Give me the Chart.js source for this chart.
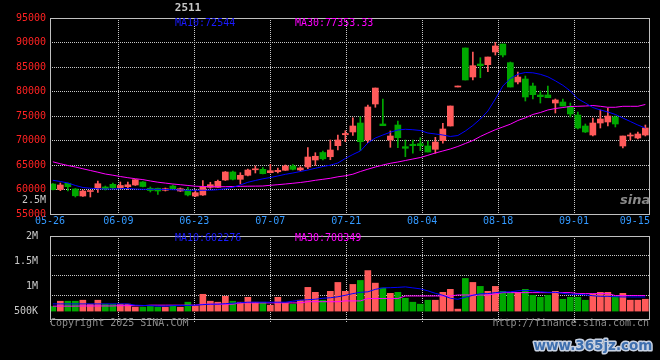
<!DOCTYPE html>
<html lang="zh-CN">
<head>
<meta charset="UTF-8">
<title>2511 日K线</title>
<style>
  html, body { margin: 0; padding: 0; background: #000; }
  #wrap { position: relative; width: 660px; height: 360px; overflow: hidden; }
  #priceChart { position: absolute; left: 0; top: 0; }
  #volChart { position: absolute; left: 0; top: 226px; }
</style>
</head>
<body>
<div id="wrap">
  <canvas id="priceChart" width="660" height="232"></canvas>
  <canvas id="volChart" width="660" height="134"></canvas>
</div>
<script src="https://cdn.jsdelivr.net/npm/chart.js@4"></script>
<script>
// date labels on the x axis and the trading-day index they sit on
const xLabels = ['05-26', '06-09', '06-23', '07-07', '07-21', '08-04', '08-18', '09-01', '09-15'];
const xLabelDay = [0, 9, 19, 29, 39, 49, 59, 69, 79];

// daily candles, 05-26 .. 09-15
const open = [
  61120, 60000, 61270, 60100, 58670, 59590, 60310, 60510, 61060, 60370,
  60570, 60920, 61530, 60250, 60250, 59840, 60710, 59690, 59900, 58670,
  58880, 60450, 60450, 61940, 63570, 62080, 62900, 64020, 64120, 63430,
  63630, 63920, 64800, 63980, 64590, 66020, 67550, 66690, 68940, 71180,
  71740, 73570, 70100, 77450, 73370, 70100, 73160, 68740, 69230, 69350,
  68880, 68200, 69960, 72960, 80920, 88880, 82960, 85610, 85470, 88060,
  89690, 85880, 81940, 82550, 81120, 79290, 79290, 77650, 77860, 76940,
  75200, 72960, 71120, 73570, 73780, 74800, 68880, 70920, 70510, 71120
];
const close = [
  59960, 60920, 60570, 58720, 59690, 59690, 61180, 60100, 60370, 60820,
  60960, 62000, 60610, 59800, 59690, 60160, 60160, 60160, 58880, 59350,
  60570, 60980, 61670, 63570, 62080, 62900, 63980, 64180, 63230, 63840,
  63920, 64800, 64120, 64390, 66630, 66780, 66270, 68060, 70100, 71430,
  72960, 69760, 76840, 80710, 73020, 70920, 70570, 68410, 68940, 68940,
  67650, 69690, 72350, 77040, 81120, 82350, 85270, 85270, 87040, 89290,
  87450, 80920, 82960, 78880, 79350, 78940, 78730, 78270, 77040, 75410,
  72550, 71740, 73570, 74390, 75000, 73370, 70920, 71120, 71330, 72550
];
const high = [
  61230, 61330, 61330, 60200, 59900, 59760, 61740, 60710, 61330, 61530,
  61530, 62040, 61630, 60510, 60310, 60310, 60920, 60310, 60450, 59900,
  61800, 61470, 61940, 63670, 63780, 63430, 64180, 64800, 64450, 65140,
  64390, 65000, 65100, 64650, 68530, 67510, 67860, 70100, 71120, 72000,
  74650, 74860, 77250, 80710, 78470, 71940, 73980, 70100, 70100, 70570,
  69900, 70650, 73510, 77040, 81120, 88880, 88060, 86900, 87040, 90000,
  89690, 86020, 83980, 83160, 81740, 80100, 81120, 78470, 78470, 77650,
  75820, 73370, 74590, 76230, 76630, 75000, 70920, 71530, 71740, 73160
];
const low = [
  59900, 59760, 59690, 58470, 58570, 58470, 59390, 59900, 60100, 60160,
  60040, 60820, 60510, 59490, 59020, 59690, 60100, 59590, 58670, 58530,
  58780, 60250, 60410, 61840, 61940, 61120, 62760, 63370, 63160, 63370,
  63370, 63880, 63980, 63780, 64250, 64940, 66020, 66080, 68060, 69760,
  71020, 67920, 69550, 76780, 73020, 68610, 68530, 66690, 67390, 67920,
  67650, 67390, 69430, 72960, 80920, 82350, 82350, 82820, 84040, 87450,
  87040, 80920, 81530, 78060, 78470, 77650, 78730, 75610, 77040, 74800,
  72350, 71630, 70920, 72550, 72960, 72760, 68470, 70100, 70310, 70920
];
const ma10 = [
  61880, 61630, 61330, 60820, 60410, 60250, 60140, 60100, 60100, 60160,
  60200, 60100, 60040, 60040, 60040, 60000, 59960, 59900, 59840, 59840,
  59840, 59860, 59960, 60160, 60450, 60920, 61470, 61840, 62180, 62450,
  62760, 63100, 63370, 63670, 63980, 64330, 64690, 64960, 65410, 66330,
  67140, 67860, 69490, 70510, 71120, 71690, 72140, 72290, 72200, 72040,
  71530, 71330, 71120, 70820, 71020, 71940, 73060, 74390, 76020, 78470,
  81120, 82650, 83530, 83880, 83820, 83510, 83000, 82180, 81270, 80100,
  78510, 77650, 76730, 76230, 75820, 75310, 74590, 73880, 73160, 72544
];
const ma30 = [
  65650, 65250, 64900, 64590, 64230, 63880, 63530, 63160, 62920, 62650,
  62410, 62200, 62020, 61740, 61490, 61310, 61120, 60980, 60820, 60670,
  60610, 60570, 60570, 60570, 60610, 60650, 60670, 60690, 60710, 60860,
  60980, 61120, 61270, 61430, 61630, 61880, 62080, 62290, 62590, 62800,
  63120, 63670, 64140, 64590, 65000, 65350, 65610, 65920, 66220, 66530,
  66980, 67450, 67860, 68270, 68780, 69390, 70000, 70820, 71530, 72200,
  72760, 73330, 74080, 74630, 75310, 75710, 76230, 76530, 76730, 76940,
  76980, 77040, 77140, 76980, 76780, 76780, 76980, 76980, 76980, 77353.33
];

// volume panel
const volume = [
  592800, 697400, 697400, 697400, 717100, 638200, 717100, 638200, 638200, 638200,
  638200, 579000, 579000, 592800, 579000, 579000, 612500, 579000, 677700, 604600,
  835600, 697400, 677700, 796100, 697400, 677700, 776400, 677700, 677700, 618400,
  776400, 657900, 638200, 717100, 973800, 875100, 717100, 894800, 1072500, 894800,
  1033000, 1111900, 1309300, 1058600, 959900, 855300, 875100, 756600, 677700, 638200,
  717100, 717100, 875100, 934300, 539500, 1151400, 1072500, 993500, 894800, 993500,
  894800, 875100, 875100, 934300, 815800, 776400, 815800, 894800, 736900, 776400,
  776400, 717100, 835600, 875100, 875100, 796100, 855300, 717100, 717100, 736900
];
const volMa10 = [
  644100, 644100, 644100, 644100, 644100, 644100, 644100, 644100, 644100, 644100,
  644100, 618400, 612500, 608600, 598700, 598700, 608600, 612500, 612500, 618400,
  628300, 638200, 638200, 648100, 657900, 667800, 677700, 677700, 677700, 677700,
  677700, 677700, 697400, 717100, 727000, 736900, 756600, 766500, 786200, 815800,
  849400, 875100, 884900, 934300, 963900, 967800, 973800, 983600, 963900, 944200,
  904700, 855300, 815800, 756600, 736900, 776400, 815800, 845500, 849400, 869100,
  881000, 884900, 904700, 914500, 904700, 884900, 875100, 875100, 855300, 835600,
  835600, 825700, 806000, 796100, 796100, 786200, 782300, 782300, 782300, 782300
];
const volMa30 = [
  598700, 598700, 598700, 598700, 602600, 602600, 602600, 602600, 602600, 608600,
  608600, 608600, 608600, 618400, 618400, 618400, 618400, 618400, 618400, 618400,
  638200, 638200, 638200, 638200, 638200, 663800, 663800, 663800, 663800, 663800,
  663800, 663800, 663800, 663800, 687500, 687500, 687500, 687500, 687500, 703300,
  703300, 703300, 750700, 750700, 750700, 750700, 750700, 802000, 802000, 802000,
  802000, 802000, 802000, 802000, 821800, 821800, 821800, 821800, 821800, 845500,
  869100, 869100, 869100, 869100, 869100, 869100, 869100, 869100, 869100, 869100,
  849400, 849400, 849400, 849400, 849400, 809900, 809900, 809900, 809900, 809900
];

const RED = '#ff5a5a';
const GREEN = '#00a800';
const GRID = '#c8c8c8';
const FONT = 'DejaVu Sans Mono';

const days = open.map((_, i) => i);
const candleColor = days.map(i => close[i] >= open[i] ? RED : GREEN);
const pts = arr => days.map(i => ({ x: i, y: arr[i] }));

// sina spreads its date grid over 79 steps while the candles take 80 slots,
// and pulls the last label in so it stays inside the frame
function dateTicks(scale) {
  scale.ticks = xLabelDay.map((d, k) => ({
    value: k === xLabelDay.length - 1 ? 77.6 : d * 80 / 79 - 0.38
  }));
}

function xAxis(showLabels) {
  return {
    type: 'linear',
    min: -0.38,
    max: 79.62,
    offset: false,
    afterBuildTicks: dateTicks,
    afterFit: s => { s.height = showLabels ? 18 : 41; },
    grid: {
      offset: false,
      color: c => c.index === xLabelDay.length - 1 ? 'rgba(0,0,0,0)' : GRID,
      drawTicks: !showLabels,
      tickLength: 4,
      tickBorderDash: [1, 1]
    },
    border: { display: false, dash: [1, 1] },
    ticks: {
      display: showLabels,
      color: '#3399ff',
      font: { family: FONT, size: 10 },
      padding: 1,
      maxRotation: 0,
      autoSkip: false,
      callback: (v, i) => xLabels[i]
    }
  };
}

const framePlugin = {
  id: 'frame',
  afterDraw(chart) {
    const { ctx, chartArea: a } = chart;
    ctx.save();
    ctx.strokeStyle = '#c0c0c0';
    ctx.lineWidth = 1;
    ctx.strokeRect(a.left + 0.5, a.top + 0.5, a.right - a.left - 1, a.bottom - a.top);
    ctx.restore();
  }
};

const notesPlugin = {
  id: 'notes',
  afterDraw(chart, args, opts) {
    const ctx = chart.ctx;
    ctx.save();
    ctx.textBaseline = 'middle';
    for (const n of opts.items || []) {
      ctx.font = n.font || ('10px ' + FONT);
      ctx.textAlign = n.align || 'left';
      if (n.stroke) {
        ctx.lineWidth = 3;
        ctx.lineJoin = 'round';
        ctx.strokeStyle = n.stroke;
        ctx.strokeText(n.text, n.x, n.y);
      }
      ctx.fillStyle = n.color;
      ctx.fillText(n.text, n.x, n.y);
    }
    ctx.restore();
  }
};

new Chart(document.getElementById('priceChart'), {
  type: 'bar',
  data: {
    datasets: [
      { type: 'line', label: 'MA10', data: pts(ma10), borderColor: '#0000ff', borderWidth: 1, pointRadius: 0, order: 0 },
      { type: 'line', label: 'MA30', data: pts(ma30), borderColor: '#ff00ff', borderWidth: 1, pointRadius: 0, order: 0 },
      {
        label: 'body',
        data: days.map(i => ({ x: i, y: [open[i], close[i]] })),
        backgroundColor: candleColor,
        barThickness: 6,
        minBarLength: 1,
        grouped: false,
        order: 1
      },
      {
        label: 'wick',
        data: days.map(i => ({ x: i, y: [low[i], high[i]] })),
        backgroundColor: candleColor,
        barThickness: 1,
        grouped: false,
        order: 2
      }
    ]
  },
  options: {
    responsive: false,
    animation: false,
    events: [],
    layout: { autoPadding: false, padding: { top: 18, right: 10, left: 0, bottom: 0 } },
    scales: {
      x: xAxis(true),
      y: {
        min: 55000,
        max: 95000,
        afterFit: s => { s.width = 50; },
        ticks: {
          stepSize: 5000,
          color: '#ff2222',
          font: { family: FONT, size: 10 },
          padding: 4,
          callback: v => String(v)
        },
        grid: { color: GRID, drawTicks: false },
        border: { display: false, dash: [1, 1] }
      }
    },
    plugins: {
      legend: { display: false },
      tooltip: { enabled: false },
      notes: {
        items: [
          { text: '2511', x: 188, y: 8.5, color: '#c8c8c8', font: 'bold 11px ' + FONT, align: 'center' },
          { text: 'MA10:72544', x: 175, y: 23.5, color: '#1a1aff' },
          { text: 'MA30:77353.33', x: 295, y: 23.5, color: '#ff00ff' },
          { text: '2.5M', x: 46, y: 200, color: '#c8c8c8', align: 'right' },
          { text: 'sina', x: 620, y: 201, color: '#8a8a8a', font: 'italic bold 13px DejaVu Sans' }
        ]
      }
    }
  },
  plugins: [framePlugin, notesPlugin]
});

new Chart(document.getElementById('volChart'), {
  type: 'bar',
  data: {
    datasets: [
      { type: 'line', label: 'MA10', data: pts(volMa10), borderColor: '#0000ff', borderWidth: 1, pointRadius: 0, order: 0 },
      { type: 'line', label: 'MA30', data: pts(volMa30), borderColor: '#ff00ff', borderWidth: 1, pointRadius: 0, order: 0 },
      {
        label: 'volume',
        data: pts(volume),
        backgroundColor: candleColor,
        barThickness: 6,
        base: 500000,
        grouped: false,
        order: 1
      }
    ]
  },
  options: {
    responsive: false,
    animation: false,
    events: [],
    layout: { autoPadding: false, padding: { top: 9, right: 10, left: 0, bottom: 0 } },
    scales: {
      x: xAxis(false),
      y: {
        min: 342100,
        max: 2000000,
        afterFit: s => { s.width = 50; },
        afterBuildTicks: s => { s.ticks = [500000, 1000000, 1500000, 2000000].map(v => ({ value: v })); },
        ticks: {
          color: '#c8c8c8',
          font: { family: FONT, size: 10 },
          padding: 4,
          callback: v => v >= 1000000 ? (v / 1000000) + 'M' : (v / 1000) + 'K'
        },
        grid: { display: false },
        border: { display: false }
      },
      // sina's horizontal volume grid does not line up with its labels
      yGrid: {
        position: 'right',
        min: 342100,
        max: 2000000,
        afterFit: s => { s.width = 0; },
        afterBuildTicks: s => { s.ticks = [815800, 1210500, 1605300].map(v => ({ value: v })); },
        ticks: { display: false },
        grid: { color: GRID, drawTicks: false },
        border: { display: false, dash: [1, 1] }
      }
    },
    plugins: {
      legend: { display: false },
      tooltip: { enabled: false },
      notes: {
        items: [
          { text: 'MA10:602276', x: 175, y: 12.5, color: '#1a1aff' },
          { text: 'MA30:708349', x: 295, y: 12.5, color: '#ff00ff' },
          { text: 'Copyright 2025 SINA.COM', x: 50, y: 97, color: '#8c8c8c' },
          { text: 'http://finance.sina.com.cn', x: 649, y: 97, color: '#8c8c8c', align: 'right' },
          { text: 'www.365jz.com', x: 593, y: 120, color: '#3e6fae', stroke: '#c8d2e2', font: 'bold 13.5px DejaVu Sans', align: 'center' }
        ]
      }
    }
  },
  plugins: [framePlugin, notesPlugin]
});
</script>
</body>
</html>
